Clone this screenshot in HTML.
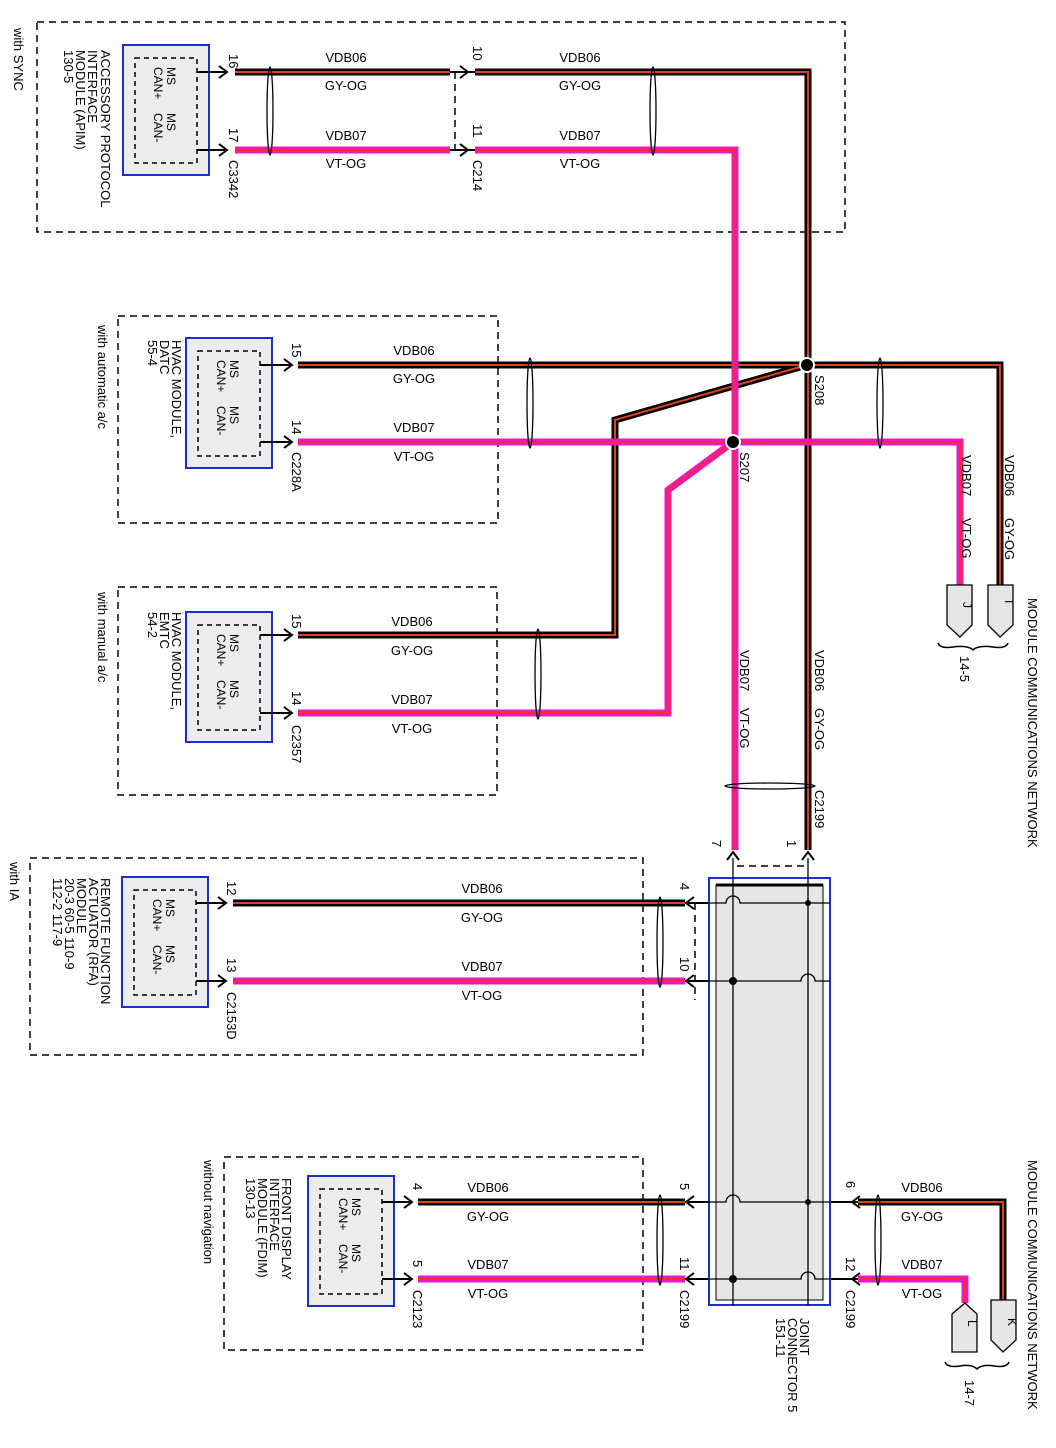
<!DOCTYPE html>
<html><head><meta charset="utf-8"><style>
html,body{margin:0;padding:0;background:#fff}
svg{display:block}
text{font-family:"Liberation Sans",sans-serif;font-size:13px;fill:#000}
.s{font-size:12px}
</style></head><body>
<svg width="1056" height="1448" viewBox="0 0 1056 1448" xmlns="http://www.w3.org/2000/svg">
<defs>
<g id="mod">
<rect x="0" y="0" width="86" height="130" fill="#ececec" stroke="#1a2fd0" stroke-width="2"/>
<rect x="12" y="13" width="62" height="105" fill="none" stroke="#000" stroke-width="1.5" stroke-dasharray="5,4"/>
<text class="s" transform="translate(44,22) rotate(90)">MS</text>
<text class="s" transform="translate(31,22) rotate(90)">CAN+</text>
<text class="s" transform="translate(44,68) rotate(90)">MS</text>
<text class="s" transform="translate(31,68) rotate(90)">CAN-</text>
</g>
<g id="arR"><path d="M-8,-6 L0,0 L-8,6" fill="none" stroke="#000" stroke-width="2"/></g>
<g id="arL"><path d="M8,-6 L0,0 L8,6" fill="none" stroke="#000" stroke-width="2"/></g>
<g id="arU"><path d="M-6,8 L0,0 L6,8" fill="none" stroke="#000" stroke-width="2"/></g>
</defs>

<g fill="none" stroke="#000" stroke-width="1.5" stroke-dasharray="7,5">
<rect x="37" y="22" width="808" height="210"/>
<rect x="118" y="316" width="380" height="207"/>
<rect x="118" y="587" width="379" height="208"/>
<rect x="30" y="858" width="613" height="197"/>
<rect x="224" y="1157" width="419" height="193"/>
<line x1="455" y1="72" x2="455" y2="150"/>
<line x1="737" y1="866" x2="808" y2="866"/>
<line x1="695" y1="903" x2="695" y2="1000"/>
</g>

<!-- modules -->
<use href="#mod" x="123" y="45"/>
<use href="#mod" x="186" y="338"/>
<use href="#mod" x="186" y="612"/>
<use href="#mod" x="122" y="877"/>
<use href="#mod" x="308" y="1176"/>

<!-- stubs from modules -->
<g stroke="#000" stroke-width="2" fill="none">
<path d="M197,72 H225 M197,150 H225"/>
<path d="M260,365 V365 H290 M260,442 H290"/>
<path d="M260,635 H290 M260,713 H290"/>
<path d="M196,903 H224 M196,981 H224"/>
<path d="M382,1202 H410 M382,1279 H410"/>
<path d="M450,72 H475 M450,150 H475"/>
<path d="M685,903 H708 M685,981 H708 M685,1202 H708 M685,1279 H708"/>
<path d="M830,1202 H860 M830,1279 H860"/>
</g>
<use href="#arR" x="227" y="72"/><use href="#arR" x="227" y="150"/>
<use href="#arR" x="292" y="365"/><use href="#arR" x="292" y="442"/>
<use href="#arR" x="292" y="635"/><use href="#arR" x="292" y="713"/>
<use href="#arR" x="226" y="903"/><use href="#arR" x="226" y="981"/>
<use href="#arR" x="412" y="1202"/><use href="#arR" x="412" y="1279"/>
<use href="#arR" x="468" y="72"/><use href="#arR" x="468" y="150"/>
<use href="#arL" x="686" y="903"/><use href="#arL" x="686" y="981"/>
<use href="#arL" x="686" y="1202"/><use href="#arL" x="686" y="1279"/>
<use href="#arL" x="852" y="1202"/><use href="#arL" x="852" y="1279"/>
<use href="#arU" x="733" y="852"/><use href="#arU" x="808" y="852"/>

<!-- GY-OG wires -->
<g fill="none" stroke="#000" stroke-width="7" stroke-linejoin="miter">
<path d="M235,72 H450"/>
<path d="M475,72 H808 V850"/>
<path d="M298,365 H1000 V585"/>
<path d="M807,365 L615,420 V635 H298"/>
<path d="M233,903 H685"/>
<path d="M418,1202 H685"/>
<path d="M858,1202 H1003 V1300"/>
</g>
<g fill="none" stroke="#e0401a" stroke-width="2">
<path d="M235,72 H450"/>
<path d="M475,72 H808 V850"/>
<path d="M298,365 H1000 V585"/>
<path d="M807,365 L615,420 V635 H298"/>
<path d="M233,903 H685"/>
<path d="M418,1202 H685"/>
<path d="M858,1202 H1003 V1300"/>
</g>
<!-- VT-OG wires -->
<g fill="none" stroke="#e818c8" stroke-width="7">
<path d="M235,150 H450"/>
<path d="M475,150 H735 V850"/>
<path d="M298,442 H960 V585"/>
<path d="M733,442 L668,490 V713 H298"/>
<path d="M233,981 H685"/>
<path d="M418,1279 H685"/>
<path d="M858,1279 H965 V1303"/>
</g>
<g fill="none" stroke="#ff2a2a" stroke-width="2">
<path d="M235,150 H450"/>
<path d="M475,150 H735 V850"/>
<path d="M298,442 H960 V585"/>
<path d="M733,442 L668,490 V713 H298"/>
<path d="M233,981 H685"/>
<path d="M418,1279 H685"/>
<path d="M858,1279 H965 V1303"/>
</g>

<!-- splices -->
<circle cx="807" cy="365" r="7" fill="#000" stroke="#fff" stroke-width="2"/>
<circle cx="733" cy="442" r="7" fill="#000" stroke="#fff" stroke-width="2"/>

<!-- twist symbols -->
<g fill="none" stroke="#000" stroke-width="1.3">
<ellipse cx="270" cy="111" rx="3" ry="44"/>
<ellipse cx="653" cy="111" rx="3" ry="44"/>
<ellipse cx="530" cy="403" rx="3" ry="45"/>
<ellipse cx="880" cy="403" rx="3" ry="45"/>
<ellipse cx="538" cy="674" rx="3" ry="45"/>
<ellipse cx="660" cy="942" rx="3" ry="45"/>
<ellipse cx="660" cy="1240" rx="3" ry="45"/>
<ellipse cx="878" cy="1240" rx="3" ry="45"/>
<ellipse cx="770" cy="786" rx="45" ry="3"/>
</g>

<!-- joint connector -->
<rect x="709" y="878" width="121" height="427" fill="#fff" stroke="#1a2fd0" stroke-width="2"/>
<rect x="716" y="885" width="107" height="415" fill="#e6e6e6" stroke="#000" stroke-width="1"/>
<line x1="716" y1="885" x2="823" y2="885" stroke="#000" stroke-width="3"/>
<g stroke="#000" stroke-width="1.3" fill="none">
<line x1="733" y1="858" x2="733" y2="1305"/>
<line x1="808" y1="858" x2="808" y2="1305"/>
<path d="M708,903 H726 a7,7 0 0 1 14,0 H830"/>
<path d="M708,981 H801 a7,7 0 0 1 14,0 H830"/>
<path d="M708,1202 H726 a7,7 0 0 1 14,0 H830"/>
<path d="M708,1279 H801 a7,7 0 0 1 14,0 H830"/>
</g>
<circle cx="808" cy="903" r="3" fill="#000"/>
<circle cx="733" cy="981" r="4" fill="#000"/>
<circle cx="808" cy="1202" r="3" fill="#000"/>
<circle cx="733" cy="1279" r="4" fill="#000"/>

<!-- connectors I J K L -->
<g fill="#e6e6e6" stroke="#000" stroke-width="1.3">
<path d="M988,585 H1013 V625 L1000,637 L988,625 Z"/>
<path d="M947,585 H972 V625 L960,637 L947,625 Z"/>
<path d="M991,1300 H1016 V1340 L1003,1352 L991,1340 Z"/>
<path d="M952,1314 L965,1303 L977,1314 V1352 H952 Z"/>
</g>
<g fill="none" stroke="#000" stroke-width="1.5">
<path d="M938,643 q2,6 15,4 q15,-2 20,3 q5,-5 20,-3 q13,2 15,-4"/>
<path d="M945,1362 q2,6 15,4 q12,-2 17,3 q5,-5 17,-3 q13,2 15,-4"/>
</g>
<text class="s" transform="translate(1005,600) rotate(90)">I</text>
<text class="s" transform="translate(963,602) rotate(90)">J</text>
<text class="s" transform="translate(1008,1318) rotate(90)">K</text>
<text class="s" transform="translate(968,1320) rotate(90)">L</text>

<!-- horizontal wire labels -->
<g text-anchor="middle">
<text x="346" y="62">VDB06</text><text x="346" y="90">GY-OG</text>
<text x="346" y="140">VDB07</text><text x="346" y="168">VT-OG</text>
<text x="580" y="62">VDB06</text><text x="580" y="90">GY-OG</text>
<text x="580" y="140">VDB07</text><text x="580" y="168">VT-OG</text>
<text x="414" y="355">VDB06</text><text x="414" y="383">GY-OG</text>
<text x="414" y="432">VDB07</text><text x="414" y="461">VT-OG</text>
<text x="412" y="626">VDB06</text><text x="412" y="655">GY-OG</text>
<text x="412" y="704">VDB07</text><text x="412" y="733">VT-OG</text>
<text x="482" y="893">VDB06</text><text x="482" y="922">GY-OG</text>
<text x="482" y="971">VDB07</text><text x="482" y="1000">VT-OG</text>
<text x="488" y="1192">VDB06</text><text x="488" y="1221">GY-OG</text>
<text x="488" y="1269">VDB07</text><text x="488" y="1298">VT-OG</text>
<text x="922" y="1192">VDB06</text><text x="922" y="1221">GY-OG</text>
<text x="922" y="1269">VDB07</text><text x="922" y="1298">VT-OG</text>
</g>

<!-- rotated labels -->
<g>
<text transform="translate(14,28) rotate(90)">with SYNC</text>
<text transform="translate(101,50) rotate(90)">ACCESSORY PROTOCOL</text>
<text transform="translate(88,50) rotate(90)">INTERFACE</text>
<text transform="translate(76,50) rotate(90)">MODULE (APIM)</text>
<text transform="translate(64,50) rotate(90)">130-5</text>
<text transform="translate(229,54) rotate(90)">16</text>
<text transform="translate(229,128) rotate(90)">17</text>
<text transform="translate(229,160) rotate(90)">C3342</text>
<text transform="translate(473,46) rotate(90)">10</text>
<text transform="translate(473,124) rotate(90)">11</text>
<text transform="translate(473,160) rotate(90)">C214</text>

<text transform="translate(98,325) rotate(90)">with automatic a/c</text>
<text transform="translate(172,340) rotate(90)">HVAC MODULE,</text>
<text transform="translate(160,340) rotate(90)">DATC</text>
<text transform="translate(148,340) rotate(90)">55-4</text>
<text transform="translate(292,343) rotate(90)">15</text>
<text transform="translate(292,420) rotate(90)">14</text>
<text transform="translate(292,452) rotate(90)">C228A</text>
<text transform="translate(815,375) rotate(90)">S208</text>
<text transform="translate(740,452) rotate(90)">S207</text>

<text transform="translate(98,592) rotate(90)">with manual a/c</text>
<text transform="translate(172,612) rotate(90)">HVAC MODULE,</text>
<text transform="translate(160,612) rotate(90)">EMTC</text>
<text transform="translate(148,612) rotate(90)">54-2</text>
<text transform="translate(292,614) rotate(90)">15</text>
<text transform="translate(292,691) rotate(90)">14</text>
<text transform="translate(292,725) rotate(90)">C2357</text>

<text transform="translate(740,650) rotate(90)">VDB07</text>
<text transform="translate(740,708) rotate(90)">VT-OG</text>
<text transform="translate(815,650) rotate(90)">VDB06</text>
<text transform="translate(815,708) rotate(90)">GY-OG</text>
<text transform="translate(815,790) rotate(90)">C2199</text>
<text transform="translate(712,840) rotate(90)">7</text>
<text transform="translate(787,840) rotate(90)">1</text>

<text transform="translate(962,455) rotate(90)">VDB07</text>
<text transform="translate(962,518) rotate(90)">VT-OG</text>
<text transform="translate(1005,455) rotate(90)">VDB06</text>
<text transform="translate(1005,518) rotate(90)">GY-OG</text>
<text transform="translate(1028,598) rotate(90)">MODULE COMMUNICATIONS NETWORK</text>
<text transform="translate(960,656) rotate(90)">14-5</text>

<text transform="translate(10,862) rotate(90)">with IA</text>
<text transform="translate(101,878) rotate(90)">REMOTE FUNCTION</text>
<text transform="translate(89,878) rotate(90)">ACTUATOR (RFA)</text>
<text transform="translate(77,878) rotate(90)">MODULE</text>
<text transform="translate(65,878) rotate(90)">20-3   60-5   110-9</text>
<text transform="translate(53,878) rotate(90)">112-2  117-9</text>
<text transform="translate(227,881) rotate(90)">12</text>
<text transform="translate(227,958) rotate(90)">13</text>
<text transform="translate(227,992) rotate(90)">C2153D</text>
<text transform="translate(680,883) rotate(90)">4</text>
<text transform="translate(680,957) rotate(90)">10</text>

<text transform="translate(204,1160) rotate(90)">without navigation</text>
<text transform="translate(282,1178) rotate(90)">FRONT DISPLAY</text>
<text transform="translate(270,1178) rotate(90)">INTERFACE</text>
<text transform="translate(258,1178) rotate(90)">MODULE (FDIM)</text>
<text transform="translate(246,1178) rotate(90)">130-13</text>
<text transform="translate(413,1183) rotate(90)">4</text>
<text transform="translate(413,1260) rotate(90)">5</text>
<text transform="translate(413,1290) rotate(90)">C2123</text>
<text transform="translate(680,1183) rotate(90)">5</text>
<text transform="translate(680,1257) rotate(90)">11</text>
<text transform="translate(680,1290) rotate(90)">C2199</text>
<text transform="translate(846,1181) rotate(90)">6</text>
<text transform="translate(846,1257) rotate(90)">12</text>
<text transform="translate(846,1290) rotate(90)">C2199</text>
<text transform="translate(800,1318) rotate(90)">JOINT</text>
<text transform="translate(788,1318) rotate(90)">CONNECTOR 5</text>
<text transform="translate(776,1318) rotate(90)">151-11</text>
<text transform="translate(1028,1160) rotate(90)">MODULE COMMUNICATIONS NETWORK</text>
<text transform="translate(965,1380) rotate(90)">14-7</text>
</g>
</svg>
</body></html>
